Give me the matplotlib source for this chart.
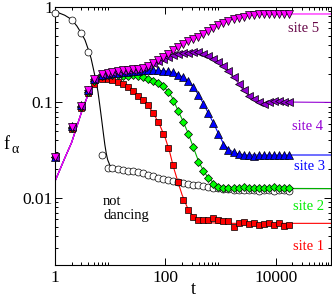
import numpy as np
import matplotlib
matplotlib.use("Agg")
import matplotlib.pyplot as plt
from matplotlib.ticker import FixedLocator, FixedFormatter, NullFormatter

# ---------------- data ----------------
t = [1, 2, 3, 4, 5, 7, 9, 11, 14, 17, 21, 26, 32, 39, 48, 60, 73, 91, 112, 138,
     170, 210, 259, 319, 394, 486, 600, 740, 912, 1125, 1388, 1713, 2113, 2606,
     3215, 3966, 4893, 6036, 7446, 9185, 11330, 13977, 17243]

not_dancing = [0.86, 0.73, 0.54, 0.336, 0.17, 0.028,
               0.0205, 0.0205, 0.0201, 0.0198, 0.0193, 0.019, 0.0187, 0.0182, 0.0175, 0.0168,
               0.0162, 0.0158, 0.0153, 0.0149, 0.0146, 0.0143, 0.0139, 0.0137, 0.0137, 0.0134,
               0.0131, 0.0128, 0.0126, 0.0125, 0.0124, 0.0121, 0.0122, 0.012, 0.0121, 0.012,
               0.0119, 0.0121, 0.012, 0.0119, 0.012, 0.0121, 0.0119]

site1 = [0.027, 0.0525, 0.087, 0.125, 0.156, 0.177,
         0.176, 0.172, 0.165, 0.155, 0.145, 0.131, 0.117, 0.106, 0.093, 0.078,
         0.062, 0.047, 0.033, 0.022, 0.0145, 0.0096, 0.0075, 0.0063, 0.0059, 0.0058,
         0.0059, 0.0062, 0.0059, 0.0057, 0.0057, 0.0050, 0.0054, 0.0056, 0.0053, 0.0055,
         0.0052, 0.0053, 0.0055, 0.0052, 0.0054, 0.0051, 0.0052]

site2 = [0.027, 0.054, 0.09, 0.13, 0.168, 0.188,
         0.192, 0.193, 0.192, 0.191, 0.19, 0.192, 0.19, 0.185, 0.178, 0.168,
         0.16, 0.148, 0.128, 0.103, 0.082, 0.063, 0.047, 0.034, 0.024, 0.019,
         0.0162, 0.014, 0.0131, 0.0128, 0.0126, 0.0128, 0.0127, 0.0129, 0.0126, 0.0127,
         0.0128, 0.0127, 0.0126, 0.0129, 0.0127, 0.0126, 0.0128]

site3 = [0.027, 0.056, 0.093, 0.135, 0.175, 0.195,
         0.2, 0.203, 0.205, 0.207, 0.21, 0.213, 0.215, 0.218, 0.221, 0.22,
         0.218, 0.215, 0.212, 0.208, 0.196, 0.183, 0.166, 0.146, 0.119, 0.097,
         0.077, 0.061, 0.047, 0.036, 0.032, 0.030, 0.0285, 0.0278, 0.0282, 0.0276,
         0.028, 0.0284, 0.0278, 0.0283, 0.0281, 0.0283, 0.0282]

site4 = [0.027, 0.055, 0.092, 0.135, 0.175, 0.197,
         0.203, 0.207, 0.21, 0.213, 0.216, 0.22, 0.226, 0.234, 0.245, 0.258,
         0.272, 0.287, 0.300, 0.312, 0.322, 0.328, 0.333, 0.336, 0.334, 0.32,
         0.305, 0.287, 0.265, 0.243, 0.212, 0.183, 0.156, 0.134, 0.118, 0.109,
         0.101, 0.097, 0.1, 0.104, 0.104, 0.101, 0.1]

site5 = [0.027, 0.055, 0.092, 0.135, 0.175, 0.198,
         0.204, 0.21, 0.215, 0.217, 0.219, 0.222, 0.226, 0.232, 0.243, 0.26,
         0.28, 0.30, 0.325, 0.355, 0.385, 0.41, 0.437, 0.466, 0.49, 0.52,
         0.567, 0.608, 0.65, 0.685, 0.72, 0.755, 0.775, 0.795, 0.815, 0.833,
         0.845, 0.845, 0.845, 0.845, 0.842, 0.84, 0.84]

# theory curves (thin lines)
rise_t = [1, 1.5, 2, 3, 4, 5, 6]
rise_v = [0.0149, 0.026, 0.038, 0.078, 0.122, 0.155, 0.172]

fit_nd_t = [1, 1.5, 2, 2.5, 3, 3.5, 4, 4.5, 5, 5.5, 6, 6.5, 7, 7.5, 8, 8.5, 9, 10, 12,
            15, 20, 30, 50, 100, 200, 500, 1000, 3000, 1e5]
fit_nd_v = [0.9, 0.82, 0.74, 0.63, 0.53, 0.45, 0.36, 0.29, 0.22, 0.17, 0.13, 0.092, 0.066,
            0.048, 0.036, 0.029, 0.025, 0.0215, 0.0205, 0.02, 0.0195, 0.0188, 0.0176,
            0.0156, 0.0145, 0.0134, 0.0127, 0.0125, 0.0125]

fit1_t = rise_t + [8, 10, 15, 20, 30, 40, 50, 60, 80, 100, 120, 140, 170, 200, 250, 300,
                   400, 600, 1000, 1e5]
fit1_v = rise_v + [0.178, 0.176, 0.163, 0.148, 0.121, 0.104, 0.09, 0.078, 0.057, 0.042,
                   0.03, 0.021, 0.0145, 0.0108, 0.0079, 0.0067, 0.0058, 0.0055, 0.0054, 0.0054]

fit2_t = rise_t + [8, 15, 25, 40, 60, 80, 100, 130, 170, 210, 260, 320, 400, 500, 600,
                   800, 1000, 1500, 1e5]
fit2_v = rise_v + [0.19, 0.192, 0.191, 0.185, 0.168, 0.155, 0.14, 0.115, 0.082, 0.063,
                   0.047, 0.034, 0.024, 0.0188, 0.0162, 0.0138, 0.013, 0.0126, 0.0125]

fit3_t = rise_t + [8, 20, 50, 100, 150, 200, 260, 320, 400, 500, 600, 750, 900, 1100,
                   1400, 2000, 3000, 1e5]
fit3_v = rise_v + [0.197, 0.21, 0.22, 0.214, 0.204, 0.186, 0.166, 0.146, 0.119, 0.095,
                   0.077, 0.06, 0.048, 0.038, 0.032, 0.029, 0.0281, 0.0281]

fit4_t = rise_t + [8, 20, 50, 100, 150, 250, 350, 500, 750, 1000, 1400, 2000, 2600, 3300,
                   4500, 6000, 8000, 12000, 1e5]
fit4_v = rise_v + [0.2, 0.215, 0.245, 0.29, 0.316, 0.334, 0.335, 0.322, 0.29, 0.258,
                   0.212, 0.165, 0.134, 0.117, 0.104, 0.098, 0.1, 0.101, 0.1]

fit5_t = rise_t + [8, 20, 50, 100, 200, 400, 700, 1000, 1500, 2500, 4000, 6000, 1e5]
fit5_v = rise_v + [0.198, 0.218, 0.245, 0.305, 0.4, 0.5, 0.595, 0.66, 0.73, 0.795, 0.83,
                   0.845, 0.845]

x_major = [1, 100, 10000]
x_major_labels = ["1", "100", "10000"]
y_major = [0.01, 0.1, 1]
y_major_labels = ["0.01", "0.1", "1"]

labels = ["site 5", "site 4", "site 3", "site 2", "site 1"]

# ---------------- figure ----------------
W, H = 332, 298
plt.rcParams["font.family"] = ["Liberation Serif", "DejaVu Serif"]
fig = plt.figure(figsize=(W / 100, H / 100), dpi=100)
L, R, T, B = 55, 331, 7, 264.5
ax = fig.add_axes([L / W, 1 - B / H, (R - L) / W, (B - T) / H])
ax.set_xscale("log")
ax.set_yscale("log")
ax.set_xlim(1, 1e5)
ax.set_ylim(0.002, 1)

RED, GREEN, BLUE, PURPLE, MAGENTA = "#ff0000", "#00ee00", "#0000ff", "#9400d3", "#ff00ff"
lw = 0.8
ax.plot(fit_nd_t, fit_nd_v, color="black", lw=lw, zorder=2)
ax.plot(fit1_t, fit1_v, color=RED, lw=lw, zorder=2)
ax.plot(fit2_t, fit2_v, color="#00b000", lw=lw, zorder=2)
ax.plot(fit3_t, fit3_v, color=BLUE, lw=lw, zorder=2)
ax.plot(fit4_t, fit4_v, color=PURPLE, lw=lw, zorder=2)
ax.plot(fit5_t, fit5_v, color=MAGENTA, lw=lw, zorder=2)

mk = dict(ls="none", mec="black", mew=0.5, clip_on=False)
ax.plot(t, not_dancing, marker="o", ms=5, mfc="white", zorder=3, **mk)
ax.plot(t, site1, marker="s", ms=4.7, mfc=RED, zorder=4, **mk)
ax.plot(t, site2, marker="D", ms=3.8, mfc="#00ff00", zorder=5, **mk)
ax.plot(t, site3, marker="^", ms=5.3, mfc=BLUE, zorder=6, **mk)
ax.plot(t, site4, marker="<", ms=5.3, mfc=PURPLE, zorder=7, **mk)
ax.plot(t, site5, marker="v", ms=5.3, mfc=MAGENTA, zorder=8, **mk)

# ticks
ax.xaxis.set_major_locator(FixedLocator(x_major))
ax.xaxis.set_major_formatter(FixedFormatter(x_major_labels))
ax.xaxis.set_minor_locator(FixedLocator([k * d for d in (1, 100, 10000) for k in range(2, 10)]))
ax.xaxis.set_minor_formatter(NullFormatter())
ax.yaxis.set_major_locator(FixedLocator(y_major))
ax.yaxis.set_major_formatter(FixedFormatter(y_major_labels))
ax.yaxis.set_minor_locator(FixedLocator([k * d for d in (0.001, 0.01, 0.1) for k in range(2, 10)]))
ax.yaxis.set_minor_formatter(NullFormatter())
ax.tick_params(which="both", direction="in", top=True, right=True, width=0.7)
ax.tick_params(which="major", length=5, labelsize=12.5)
ax.tick_params(which="minor", length=2.5)
ax.tick_params(axis="x", which="major", pad=4)
ax.tick_params(axis="y", which="major", pad=1.5)
for s in ax.spines.values():
    s.set_linewidth(0.8)

def fpos(x, y):
    return x / W, 1 - y / H

# axis labels
fig.text(*fpos(193, 289), "t", ha="center", va="center", fontsize=13)
fig.text(*fpos(3, 149), "f", ha="left", va="baseline", fontsize=13)
fig.text(*fpos(11.5, 153), "\u03b1", ha="left", va="baseline", fontsize=10)

# annotations
fs = 10.5
fig.text(*fpos(288, 31.5), labels[0], color="#670748", fontsize=fs, va="baseline")
fig.text(*fpos(292, 130.5), labels[1], color=PURPLE, fontsize=fs, va="baseline")
fig.text(*fpos(294, 170), labels[2], color=BLUE, fontsize=fs, va="baseline")
fig.text(*fpos(293, 210.5), labels[3], color=GREEN, fontsize=fs, va="baseline")
fig.text(*fpos(293, 250), labels[4], color=RED, fontsize=fs, va="baseline")
fig.text(*fpos(103, 205), "not", color="black", fontsize=fs, va="baseline")
fig.text(*fpos(103, 219), "dancing", color="black", fontsize=fs, va="baseline")

fig.savefig("out.png", dpi=100)
